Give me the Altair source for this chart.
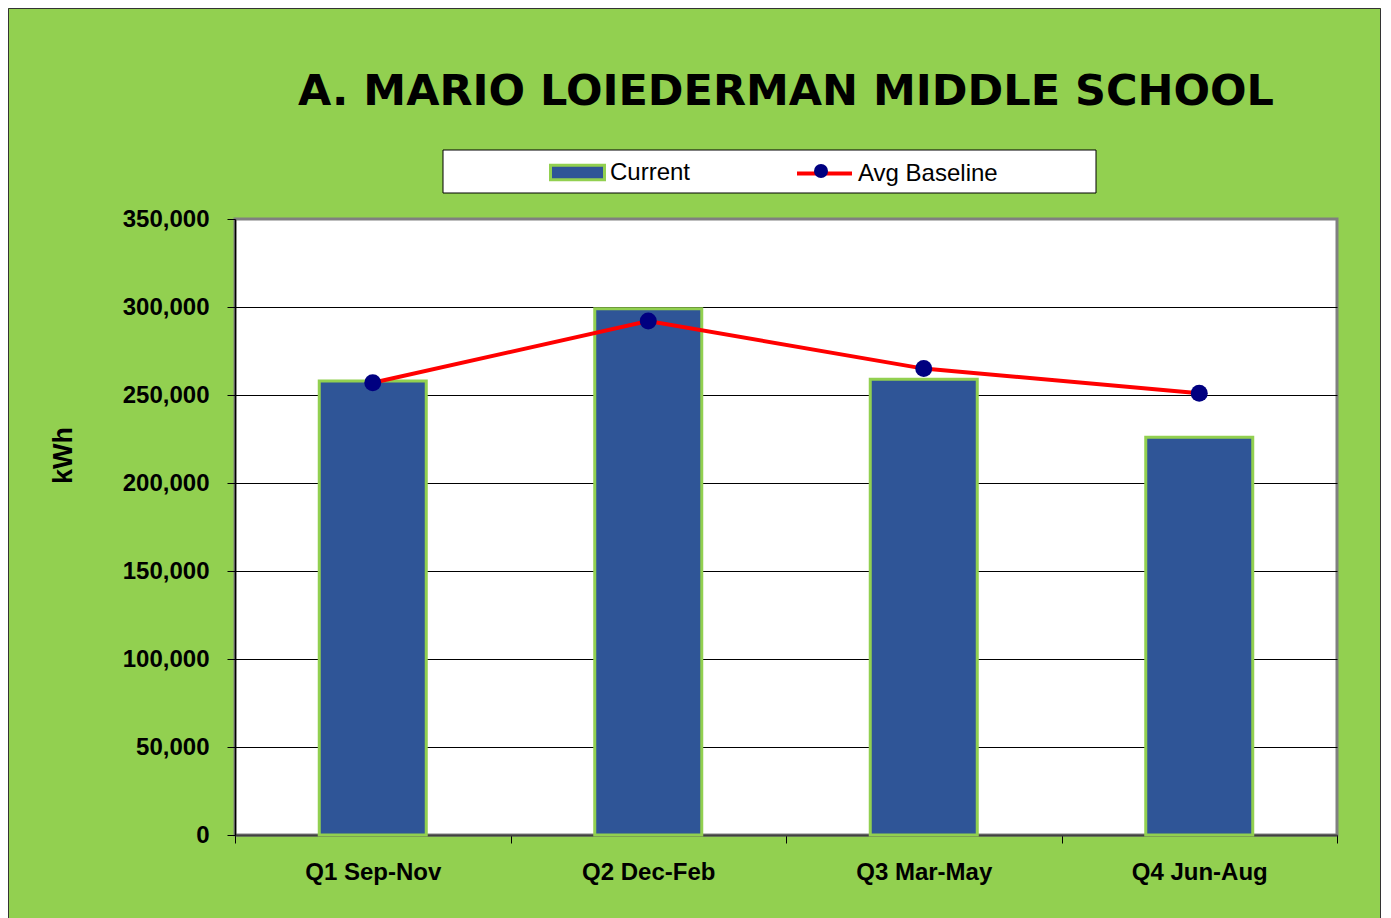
import altair as alt
import pandas as pd

# ---- data ----
quarters = ["Q1 Sep-Nov", "Q2 Dec-Feb", "Q3 Mar-May", "Q4 Jun-Aug"]
current = [258000, 299000, 259000, 226000]
baseline = [257000, 292000, 265000, 251000]
y_ticks = [0, 50000, 100000, 150000, 200000, 250000, 300000, 350000]
bar_name = "Current"
line_name = "Avg Baseline"
title_text = "A. MARIO LOIEDERMAN MIDDLE SCHOOL"

df = pd.DataFrame({"quarter": quarters, "current": current, "baseline": baseline})

FONT = "Liberation Sans"
GREEN = "#92D050"
BLUE = "#2F5597"
RED = "#FF0000"
NAVY = "#000080"

x_enc = alt.X(
    "quarter:N", sort=quarters, title=None,
    scale=alt.Scale(paddingInner=0, paddingOuter=0),
    axis=alt.Axis(labelAngle=0, labelFont=FONT, labelFontSize=24, labelFontWeight="bold",
                  labelColor="black", labelPadding=17, tickBand="extent", tickSize=8,
                  tickColor="black", tickWidth=1, domainColor="#404040", domainWidth=2,
                  grid=False),
)
y_scale = alt.Scale(domain=[0, 350000], nice=False)
y_axis = alt.Axis(
    values=y_ticks, labelExpr="format(datum.value, ',')", title="kWh",
    labelFont=FONT, labelFontSize=24, labelFontWeight="bold", labelColor="black",
    labelPadding=18, tickSize=8, tickColor="black", tickWidth=1,
    domainColor="black", domainWidth=1.5,
    grid=True, gridColor="black", gridWidth=1,
    gridOpacity={"condition": {"test": "datum.value >= 350000", "value": 0}, "value": 1},
    titleFont=FONT, titleFontSize=27, titleFontWeight="bold", titleColor="black",
    titleAngle=270, titleX=-172, titleY=236, titleAlign="center", titleBaseline="middle",
)

legend_bar = alt.Legend(
    orient="none", legendX=314, legendY=-75, title=None,
    labelFont=FONT, labelFontSize=24, labelColor="black", labelOffset=4,
    symbolType="M-1,-0.27H1V0.27H-1Z", symbolSize=2916,
    symbolStrokeColor=GREEN, symbolStrokeWidth=3, symbolOpacity=1, padding=0,
)
legend_line = alt.Legend(
    orient="none", legendX=560, legendY=-75, title=None,
    labelFont=FONT, labelFontSize=24, labelColor="black", labelOffset=4,
    symbolType="stroke", symbolSize=3025, symbolStrokeWidth=4, symbolOpacity=1, padding=0,
)
legend_dot = alt.Legend(
    orient="none", legendX=579, legendY=-55, title=None, labelExpr="''",
    symbolSize=196, symbolFillColor=NAVY, symbolStrokeColor=NAVY, symbolStrokeWidth=0,
    symbolType="circle", padding=0, labelFontSize=1,
)

deco = alt.Data(values=[{"k": 1}])

panel = alt.Chart(deco).mark_rect(fillOpacity=0, stroke="#333333", strokeWidth=1).encode(
    x=alt.value(-226.5), x2=alt.value(1145.5), y=alt.value(-210.5), y2=alt.value(720)
)
legend_box = alt.Chart(deco).mark_rect(fill="white", stroke="black", strokeWidth=1).encode(
    x=alt.value(208), x2=alt.value(861), y=alt.value(-69), y2=alt.value(-26)
)

bars = alt.Chart(df).transform_calculate(series="'" + bar_name + "'").mark_bar(
    stroke=GREEN, strokeWidth=3, size=107
).encode(
    x=x_enc,
    y=alt.Y("current:Q", scale=y_scale, axis=y_axis),
    fill=alt.Fill("series:N", scale=alt.Scale(domain=[bar_name], range=[BLUE]), legend=legend_bar),
)

line = alt.Chart(df).transform_calculate(series2="'" + line_name + "'").mark_line(
    strokeWidth=4
).encode(
    x=x_enc,
    y=alt.Y("baseline:Q", scale=y_scale, axis=y_axis),
    stroke=alt.Stroke("series2:N", scale=alt.Scale(domain=[line_name], range=[RED]), legend=legend_line),
)

points = alt.Chart(df).transform_calculate(marker="'dot'").mark_point(
    filled=True, size=289, color=NAVY, opacity=1
).encode(
    x=x_enc,
    y=alt.Y("baseline:Q", scale=y_scale, axis=y_axis),
    shape=alt.Shape("marker:N", scale=alt.Scale(range=["circle"]), legend=legend_dot),
)

chart = alt.layer(panel, legend_box, bars, line, points).properties(
    width=1102, height=616,
    title=alt.Title(title_text, font="DejaVu Sans", fontSize=43, fontWeight="bold",
                    color="black", anchor="middle", offset=0, baseline="alphabetic", dy=140),
    background=GREEN,
    padding={"left": 227, "top": 211, "right": 44, "bottom": 83},
    autosize=alt.AutoSizeParams(type="none"),
).configure_view(
    fill="white", stroke="#808080", strokeWidth=3
)

chart.save("out.html", embed_options={"renderer": "svg", "actions": False})
